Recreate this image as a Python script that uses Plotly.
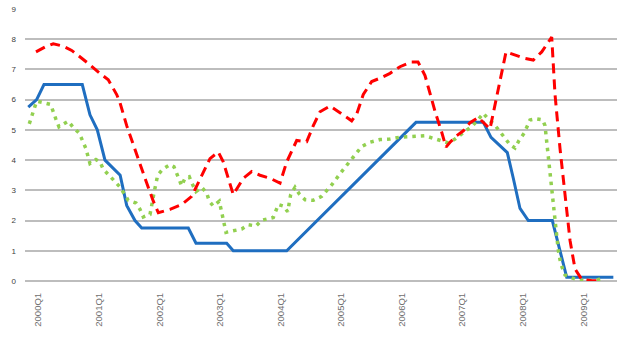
import plotly.graph_objects as go

# ---- data (decimal years, percent) ----
blue_t = [2000.084, 2000.221, 2000.341, 2000.969, 2001.095, 2001.215, 2001.341, 2001.590,
          2001.697, 2001.833, 2001.943, 2002.707, 2002.833, 2003.336, 2003.444, 2004.320,
          2006.439, 2007.543, 2007.669, 2007.936, 2008.034, 2008.144, 2008.280, 2008.674,
          2008.800, 2008.910, 2009.674]
blue_v = [5.75, 6.0, 6.5, 6.5, 5.5, 5.0, 4.0, 3.5,
          2.5, 2.0, 1.75, 1.75, 1.25, 1.25, 1.0, 1.0,
          5.25, 5.25, 4.75, 4.25, 3.4, 2.4, 2.0, 2.0,
          1.0, 0.12, 0.12]

red_t = [2000.210, 2000.357, 2000.493, 2000.657, 2000.795, 2000.931, 2001.067, 2001.259,
         2001.395, 2001.533, 2001.587, 2001.697, 2001.861, 2001.997, 2002.133, 2002.215,
         2002.407, 2002.598, 2002.762, 2002.926, 2003.062, 2003.198, 2003.280, 2003.444,
         2003.608, 2003.746, 2003.882, 2004.046, 2004.210, 2004.320, 2004.484, 2004.648,
         2004.756, 2004.866, 2005.030, 2005.193, 2005.385, 2005.467, 2005.575, 2005.713,
         2005.849, 2006.013, 2006.177, 2006.369, 2006.472, 2006.587, 2006.757, 2006.861,
         2006.931, 2006.997, 2007.107, 2007.215, 2007.325, 2007.462, 2007.543, 2007.652,
         2007.915, 2008.062, 2008.198, 2008.362, 2008.500, 2008.664, 2008.718, 2008.800,
         2008.882, 2008.964, 2009.046, 2009.156, 2009.320, 2009.484]
red_v = [7.58, 7.74, 7.85, 7.77, 7.63, 7.42, 7.2, 6.87,
         6.66, 6.17, 5.9, 5.14, 4.16, 3.4, 2.64, 2.26,
         2.37, 2.53, 2.8, 3.5, 4.05, 4.27, 3.94, 2.86,
         3.4, 3.62, 3.5, 3.4, 3.24, 3.94, 4.65, 4.61,
         5.14, 5.6, 5.79, 5.57, 5.3, 5.52, 6.17, 6.6,
         6.71, 6.87, 7.09, 7.25, 7.25, 6.8, 5.57, 4.92,
         4.43, 4.59, 4.81, 4.97, 5.24, 5.41, 5.24, 5.03,
         7.58, 7.47, 7.38, 7.31, 7.58, 8.07, 6.17, 4.38,
         2.86, 1.34, 0.4, 0.05, 0.01, 0.01]

green_t = [2000.100, 2000.221, 2000.330, 2000.451, 2000.538, 2000.587, 2000.657, 2000.739,
           2000.821, 2000.920, 2001.025, 2001.095, 2001.193, 2001.259, 2001.313, 2001.411,
           2001.505, 2001.590, 2001.657, 2001.723, 2001.849, 2001.915, 2001.969, 2002.079,
           2002.149, 2002.205, 2002.287, 2002.407, 2002.472, 2002.526, 2002.598, 2002.652,
           2002.723, 2002.779, 2002.833, 2002.926, 2003.008, 2003.051, 2003.116, 2003.215,
           2003.280, 2003.325, 2003.444, 2003.582, 2003.690, 2003.816, 2003.910, 2004.018,
           2004.100, 2004.182, 2004.264, 2004.336, 2004.385, 2004.456, 2004.526, 2004.620,
           2004.756, 2004.893, 2005.057, 2005.221, 2005.385, 2005.549, 2005.685, 2005.849,
           2006.013, 2006.177, 2006.341, 2006.505, 2006.587, 2006.723, 2006.844, 2006.969,
           2007.079, 2007.270, 2007.369, 2007.461, 2007.543, 2007.625, 2007.718, 2007.805,
           2007.893, 2007.980, 2008.062, 2008.128, 2008.215, 2008.308, 2008.402, 2008.516,
           2008.554, 2008.608, 2008.664, 2008.718, 2008.772, 2008.811, 2008.882, 2008.964,
           2009.074, 2009.210, 2009.402, 2009.484]
green_v = [5.2, 5.95, 5.9, 5.84, 5.35, 5.1, 5.19, 5.29,
           5.08, 4.89, 4.4, 3.89, 4.02, 3.94, 3.7, 3.51,
           3.29, 3.1, 2.86, 2.67, 2.58, 2.37, 2.12, 2.2,
           2.96, 3.5, 3.7, 3.85, 3.78, 3.5, 3.15, 3.4,
           3.45, 3.18, 2.96, 3.1, 2.91, 2.64, 2.48, 2.64,
           2.1, 1.61, 1.66, 1.72, 1.86, 1.82, 2.01, 2.07,
           2.1, 2.53, 2.48, 2.29, 2.86, 3.1, 2.88, 2.69,
           2.67, 2.8, 3.18, 3.62, 4.05, 4.45, 4.59, 4.68,
           4.7, 4.76, 4.78, 4.79, 4.81, 4.72, 4.65, 4.57,
           4.7, 4.97, 5.14, 5.35, 5.55, 5.35, 5.19, 4.97,
           4.73, 4.51, 4.4, 4.65, 4.9, 5.33, 5.37, 5.33,
           5.14, 4.05, 2.96, 1.99, 1.01, 0.58, 0.2, 0.12,
           0.05, 0.01, 0.03, 0.09]

tick_text = ["2000Q1", "2001Q1", "2002Q1", "2003Q1", "2004Q1",
             "2005Q1", "2006Q1", "2007Q1", "2008Q1", "2009Q1"]
tick_pos = [2000.248, 2001.241, 2002.234, 2003.227, 2004.220,
            2005.214, 2006.207, 2007.200, 2008.193, 2009.186]

fig = go.Figure()
fig.add_trace(go.Scatter(x=blue_t, y=blue_v, mode="lines",
                         line=dict(color="#1F6EC0", width=3)))
fig.add_trace(go.Scatter(x=green_t, y=green_v, mode="lines",
                         line=dict(color="#92D050", width=3.5, dash="3.5px,5px")))
fig.add_trace(go.Scatter(x=red_t, y=red_v, mode="lines",
                         line=dict(color="#FF0000", width=3, dash="10px,6px")))

fig.update_layout(
    width=623, height=342,
    margin=dict(l=25, r=6, t=5, b=61),
    paper_bgcolor="white", plot_bgcolor="white",
    showlegend=False,
    font=dict(family="Liberation Sans, Arial, sans-serif", color="#595959"),
)
fig.update_xaxes(range=[2000.030, 2009.734], tickvals=tick_pos, ticktext=tick_text,
                 tickangle=-90, showgrid=False, zeroline=False, showline=False,
                 tickfont=dict(size=9.5, color="#6E6E6E"), ticklabelstandoff=9)
fig.update_yaxes(range=[0, 9], dtick=1, tick0=0, showgrid=True, gridcolor="#BDBDBD",
                 gridwidth=1.5, zeroline=True, zerolinecolor="#BDBDBD", zerolinewidth=1.5,
                 showline=False, tickfont=dict(size=8, color="#404040"), ticklabelstandoff=8)

fig.write_html("out.html")
